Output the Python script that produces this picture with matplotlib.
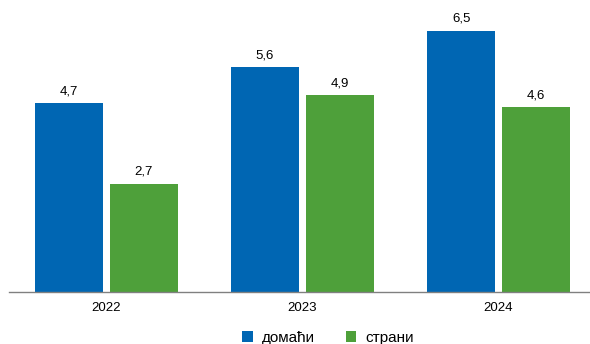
import numpy as np
import matplotlib.pyplot as plt

plt.rcParams['font.family'] = ['Liberation Sans', 'DejaVu Sans']

years = ['2022', '2023', '2024']
domaci = [4.7, 5.6, 6.5]
strani = [2.7, 4.9, 4.6]
labels = ['домаћи', 'страни']

blue = '#0066b3'
green = '#4ea03a'

fig = plt.figure(figsize=(5.9, 3.44), dpi=100)
ax = fig.add_axes([8.5/590, 52/344, 588/590, 292/344])

x = np.arange(len(years))
w = 0.347
off = 0.191
b1 = ax.bar(x - off, domaci, w, color=blue, label=labels[0])
b2 = ax.bar(x + off, strani, w, color=green, label=labels[1])

for bars, vals in ((b1, domaci), (b2, strani)):
    for r, v in zip(bars, vals):
        ax.text(r.get_x() + r.get_width()/2, v + 0.15, str(v).replace('.', ','),
                ha='center', va='bottom', fontsize=9.5)

ax.set_xlim(-0.5, 2.5)
ax.set_ylim(0, 7.27)
ax.set_xticks(x)
ax.set_xticklabels(years, fontsize=9.5)
ax.tick_params(axis='x', length=0, pad=7)
ax.set_yticks([])
for s in ['top', 'right', 'left']:
    ax.spines[s].set_visible(False)
ax.spines['bottom'].set_color('#808080')
ax.spines['bottom'].set_linewidth(1)

fig.legend(handles=[b1, b2], loc='center', bbox_to_anchor=(328/590, 1 - 338/344),
           ncol=2, frameon=False, fontsize=11, handlelength=0.7, handleheight=0.7,
           handletextpad=0.6, columnspacing=2.0)

fig.savefig('out.png', dpi=100)
